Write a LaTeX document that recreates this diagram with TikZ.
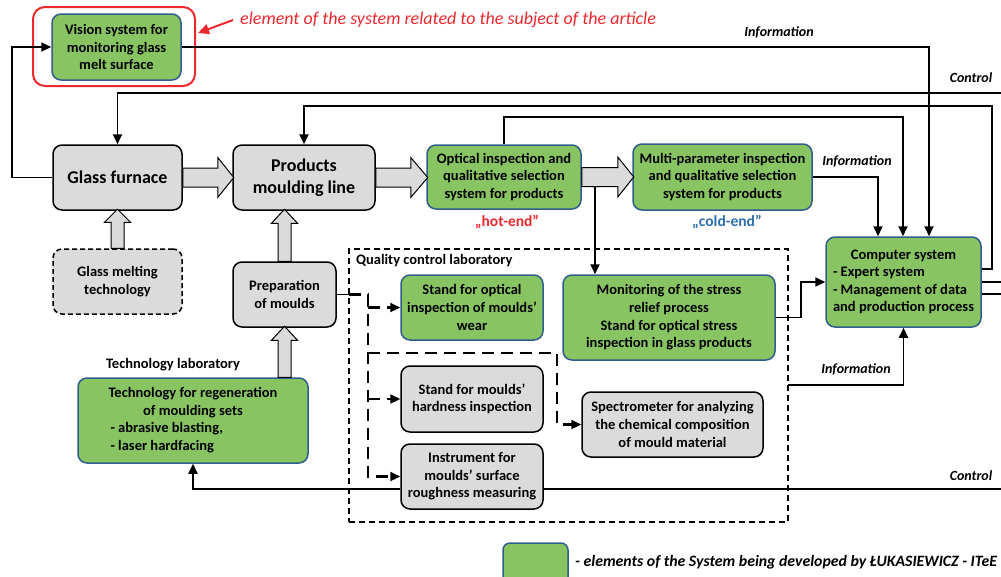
\documentclass[tikz,border=0pt]{standalone}
\usepackage{fontspec}
\setmainfont{Carlito}
\usetikzlibrary{arrows.meta,calc}
\definecolor{gfill}{RGB}{136,197,98}
\definecolor{gborder}{RGB}{47,93,140}
\definecolor{gbox}{RGB}{218,219,218}
\definecolor{rednote}{RGB}{236,42,46}
\definecolor{coldblue}{RGB}{46,110,170}
\newcommand{\boxfnt}{\fontsize{14.5}{17.6}\selectfont\bfseries}
\newcommand{\bigfnt}{\fontsize{18}{21.5}\selectfont\bfseries}
\newcommand{\lblfnt}{\fontsize{14}{17}\selectfont\bfseries\itshape}
% horizontal block arrow: start anchor, shaft length, head length
\newcommand{\hblock}[3]{\draw[barrow] (#1) ++(0,-9.5) -- ++(#2,0) -- ++(0,-10.5) -- ++(#3,20) -- ++(-#3,20) -- ++(0,-10.5) -- ++(-#2,0) -- cycle;}
% vertical (upward) block arrow: start anchor, shaft length, head length
\newcommand{\vblock}[3]{\draw[barrow] (#1) ++(-6.5,0) -- ++(0,-#2) -- ++(-6.5,0) -- ++(13,-#3) -- ++(13,#3) -- ++(-6.5,0) -- ++(0,#2) -- cycle;}
\begin{document}
\begin{tikzpicture}[x=1pt,y=-1pt,
  box/.style={rounded corners=9pt, line width=1.5pt, align=center, inner sep=0pt, font=\boxfnt, text=black},
  gbx/.style={box, draw=gborder, fill=gfill},
  ybx/.style={box, draw=black, fill=gbox},
  sz/.style 2 args={minimum width=#1pt, minimum height=#2pt},
  conn/.style={line width=1.8pt, line join=miter},
  arr/.style={conn, -{Triangle[length=10pt,width=9pt]}},
  dconn/.style={line width=2.2pt, dash pattern=on 12pt off 7pt},
  darr/.style={dconn, -{Triangle[length=10pt,width=9pt]}},
  barrow/.style={draw=black, line width=1pt, fill=gbox, line join=miter},
  lbl/.style={font=\lblfnt, inner sep=0pt}]
\useasboundingbox (0,0) rectangle (1001,576);

% ---------- nodes ----------
\node[draw=rednote, line width=2pt, rounded corners=12pt, sz={162}{79}] (redbox) at (114,46.5) {};
\node[gbx, sz={129}{66}] (vision) at (116.5,47) {Vision system for\\monitoring glass\\melt surface};
\node[font=\fontsize{18}{21}\selectfont\itshape, text=rednote, anchor=west, inner sep=0pt] (note) at (240,20) {element of the system related to the subject of the article};

\node[ybx, sz={129}{65}, font=\bigfnt] (furnace) at (117.5,177.5) {Glass furnace};
\node[ybx, sz={142}{65}, font=\bigfnt] (products) at (304,177.5) {Products\\moulding line};
\node[gbx, sz={154}{64}] (optical) at (504,177) {Optical inspection and\\qualitative selection\\system for products};
\node[gbx, sz={179}{66}] (multi) at (722.5,177) {Multi-parameter inspection\\and qualitative selection\\system for products};
\node[font=\fontsize{15.5}{18}\selectfont\bfseries, text=rednote, inner sep=0pt] (hot) at (507,222) {„hot-end”};
\node[font=\fontsize{15.5}{18}\selectfont\bfseries, text=coldblue, inner sep=0pt] (cold) at (727,222) {„cold-end”};

\node[gbx, sz={155}{90}] (computer) at (903.5,282) {\begin{tabular}{@{}l@{}}\multicolumn{1}{@{}c@{}}{Computer system}\\- Expert system\\- Management of data\\and production process\end{tabular}};

\node[ybx, sz={129}{65}, dash pattern=on 5pt off 3pt] (gmt) at (117.5,281.5) {Glass melting\\technology};
\node[ybx, sz={103}{65}] (prep) at (284.5,294.5) {Preparation\\of moulds};
\node[font=\boxfnt, inner sep=0pt] (tlab) at (173,365) {Technology laboratory};
\node[gbx, sz={230}{85}] (tech) at (193,420.5) {\begin{tabular}{@{}l@{}}\multicolumn{1}{@{}c@{}}{Technology for regeneration}\\\multicolumn{1}{@{}c@{}}{of moulding sets}\\\hspace{2pt}- abrasive blasting,\\\hspace{2pt}- laser hardfacing\end{tabular}};

\node[draw=black, line width=1.2pt, dash pattern=on 6pt off 4pt, sz={439}{273}] (qcl) at (568.5,385.5) {};
\node[font=\boxfnt, anchor=west, inner sep=0pt] (qlab) at (356,261) {Quality control laboratory};
\node[gbx, sz={142}{65}] (standopt) at (472,307.5) {Stand for optical\\inspection of moulds’\\wear};
\node[ybx, sz={142}{66}] (hard) at (472,399) {Stand for moulds’\\hardness inspection};
\node[ybx, sz={142}{65}] (instr) at (472,476.5) {Instrument for\\moulds’ surface\\roughness measuring};
\node[ybx, sz={181}{65}] (spectro) at (672.5,424.5) {Spectrometer for analyzing\\the chemical composition\\of mould material};
\node[gbx, sz={212}{85}] (stress) at (669,317.5) {Monitoring of the stress\\relief process\\Stand for optical stress\\inspection in glass products};

\node[gbx, sz={65}{60}, rounded corners=7pt] (legbox) at (535.5,573) {};
\node[font=\fontsize{15.8}{18}\selectfont\bfseries\itshape, anchor=west, inner sep=0pt] (legtxt) at (575,562) {- elements of the System being developed by ŁUKASIEWICZ - ITeE};

% labels
\node[lbl] (info1) at (779,32) {Information};
\node[lbl] (info2) at (857,161) {Information};
\node[lbl] (info3) at (856,369) {Information};
\node[lbl] (ctl1) at (971,78) {Control};
\node[lbl] (ctl2) at (971,476) {Control};

% coordinates
\coordinate (ctrlTop) at (1001,93);
\coordinate (ctrlBot) at (1001,489);
\coordinate (outA) at (1001,282);
\coordinate (outB) at (1001,294);
\coordinate (infoB) at (788,385);
\coordinate (tap) at (595,187);
\coordinate (qin) at (349,294.5);
\coordinate (dj) at (368,294.5);
\coordinate (dk) at (368,353);

% ---------- block arrows ----------
\hblock{furnace.east}{35}{16}
\hblock{products.east}{35}{17}
\hblock{optical.east}{36}{16}
\vblock{gmt.north}{26}{13}
\vblock{prep.north}{38}{14}
\vblock{prep.south |- tech.north}{37}{14}

% ---------- connectors ----------
\draw[rednote, line width=2pt, -{Triangle[length=11pt,width=10pt]}] ([xshift=-7pt]note.west) -- ([yshift=13.5pt,xshift=2pt]redbox.east);
\draw[arr] (furnace.west) -- ++(-40,0) |- (vision.west);
\draw[arr] (vision.east) -| ([xshift=25.5pt]computer.north);
\draw[arr] (ctrlTop) -| (furnace.north);
\draw[arr] ([yshift=13pt]computer.east) -- (992,269) -- (992,106) -| (products.north);
\draw[arr] (optical.north) -- ++(0,-27) -| ([xshift=-0.5pt]computer.north);
\draw[arr] (multi.east) -| ([xshift=-25.5pt]computer.north);
\draw[conn] (computer.east) -- (outA);
\draw[conn] ([yshift=-12pt]computer.east) -- (outB);
\draw[arr] (stress.east) -- ++(25,0) |- (computer.west);
\draw[arr] (infoB) -| (computer.south);
\draw[arr] (tap) -- (tap |- stress.north);
\draw[conn] (ctrlBot) -- (instr.east |- ctrlBot);
\draw[arr] (instr.west |- ctrlBot) -| (tech.south);

\draw[conn] (prep.east) -- (qin);
\draw[darr] (qin) -- (dj) |- (instr.west);
\draw[darr] (dj |- standopt.west) -- (standopt.west);
\draw[darr] (dj |- hard.west) -- (hard.west);
\draw[darr] (dk) -- (557,353) |- (spectro.west);
\end{tikzpicture}
\end{document}
